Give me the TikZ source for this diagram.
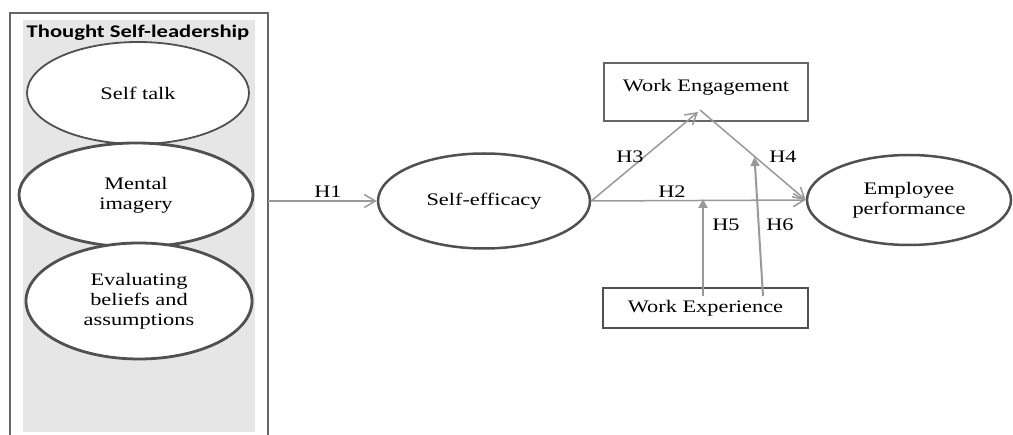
\documentclass[tikz,border=0pt]{standalone}
\usepackage{fontspec}
\usepackage{graphicx}
\setmainfont{Liberation Serif}
\newfontfamily\titlefont{Carlito}
\usetikzlibrary{shapes.geometric,arrows.meta}
\newcommand{\sx}[1]{\scalebox{1.27}[1]{#1}}
\definecolor{edgegray}{HTML}{505050}
\definecolor{arrowgray}{HTML}{999999}
\definecolor{panelgray}{HTML}{E6E6E6}
\definecolor{framegray}{HTML}{666666}
\begin{document}
\begin{tikzpicture}[x=1pt,y=-1pt,
  every node/.style={font=\fontsize{17.6}{20}\selectfont, align=center, inner sep=0pt},
  oval/.style={ellipse, draw=edgegray, fill=white, line width=2.8pt},
  boxnode/.style={rectangle, draw=framegray, fill=white},
  link/.style={draw=arrowgray, line width=1.5pt, -{Straight Barb[length=11pt,width=13pt,line width=1.5pt]}},
  modlink/.style={draw=arrowgray, line width=2pt, -{Triangle[length=9pt,width=9pt]}}]
\useasboundingbox (0,0) rectangle (1013,435);
% left panel
\fill[panelgray] (23,20) rectangle (255,432);
\draw[framegray, line width=1.5pt] (10,437) -- (10,13) -- (268,13) -- (268,437);
\node (title) at (138,33) {\sx{\titlefont\fontsize{17.8}{20}\selectfont\bfseries Thought Self-leadership}};
\node[oval, line width=1.8pt, minimum width=222pt, minimum height=102pt] (st) at (138,93) {\sx{Self talk}};
\node[oval, minimum width=234pt, minimum height=104pt] (mi) at (136,195) {\sx{Mental}\\\sx{imagery}};
\node[oval, minimum width=226pt, minimum height=116pt] (eb) at (139,301) {\sx{Evaluating}\\\sx{beliefs and}\\\sx{assumptions}};
% right part
\node[oval, line width=2.5pt, minimum width=212pt, minimum height=95pt] (se) at (484,201) {\sx{Self-efficacy}};
\node[oval, line width=2.5pt, minimum width=204pt, minimum height=90pt] (ep) at (909,200) {\sx{Employee}\\\sx{performance}};
\node[boxnode, line width=1.2pt, minimum width=204pt, minimum height=58pt, text depth=14pt] (we) at (706,92) {\sx{Work Engagement}};
\node[boxnode, draw=edgegray, line width=2.8pt, minimum width=205pt, minimum height=40pt] (wx) at (705.5,308) {\sx{Work Experience}};
% connectors
\coordinate (h1s) at (268,201);
\draw[link] (h1s) -- (se.west);
\draw[link] (se.east) -- (ep.west);
\coordinate (h3e) at (698,112);
\draw[link] (se.east) -- (h3e);
\coordinate (h4s) at (700,110);
\draw[link] (h4s) -- (ep.west);
\coordinate (h5s) at (703,296);
\coordinate (h5e) at (703,199);
\draw[modlink] (h5s) -- (h5e);
\coordinate (h6s) at (763,296);
\coordinate (h6e) at (754.5,157);
\draw[modlink] (h6s) -- (h6e);
% labels
\node (lh1) at (328,192) {\sx{H1}};
\node (lh2) at (672,192) {\sx{H2}};
\node (lh3) at (630,157) {\sx{H3}};
\node (lh4) at (783,157) {\sx{H4}};
\node (lh5) at (726,225) {\sx{H5}};
\node (lh6) at (780,225) {\sx{H6}};
\end{tikzpicture}
\end{document}
